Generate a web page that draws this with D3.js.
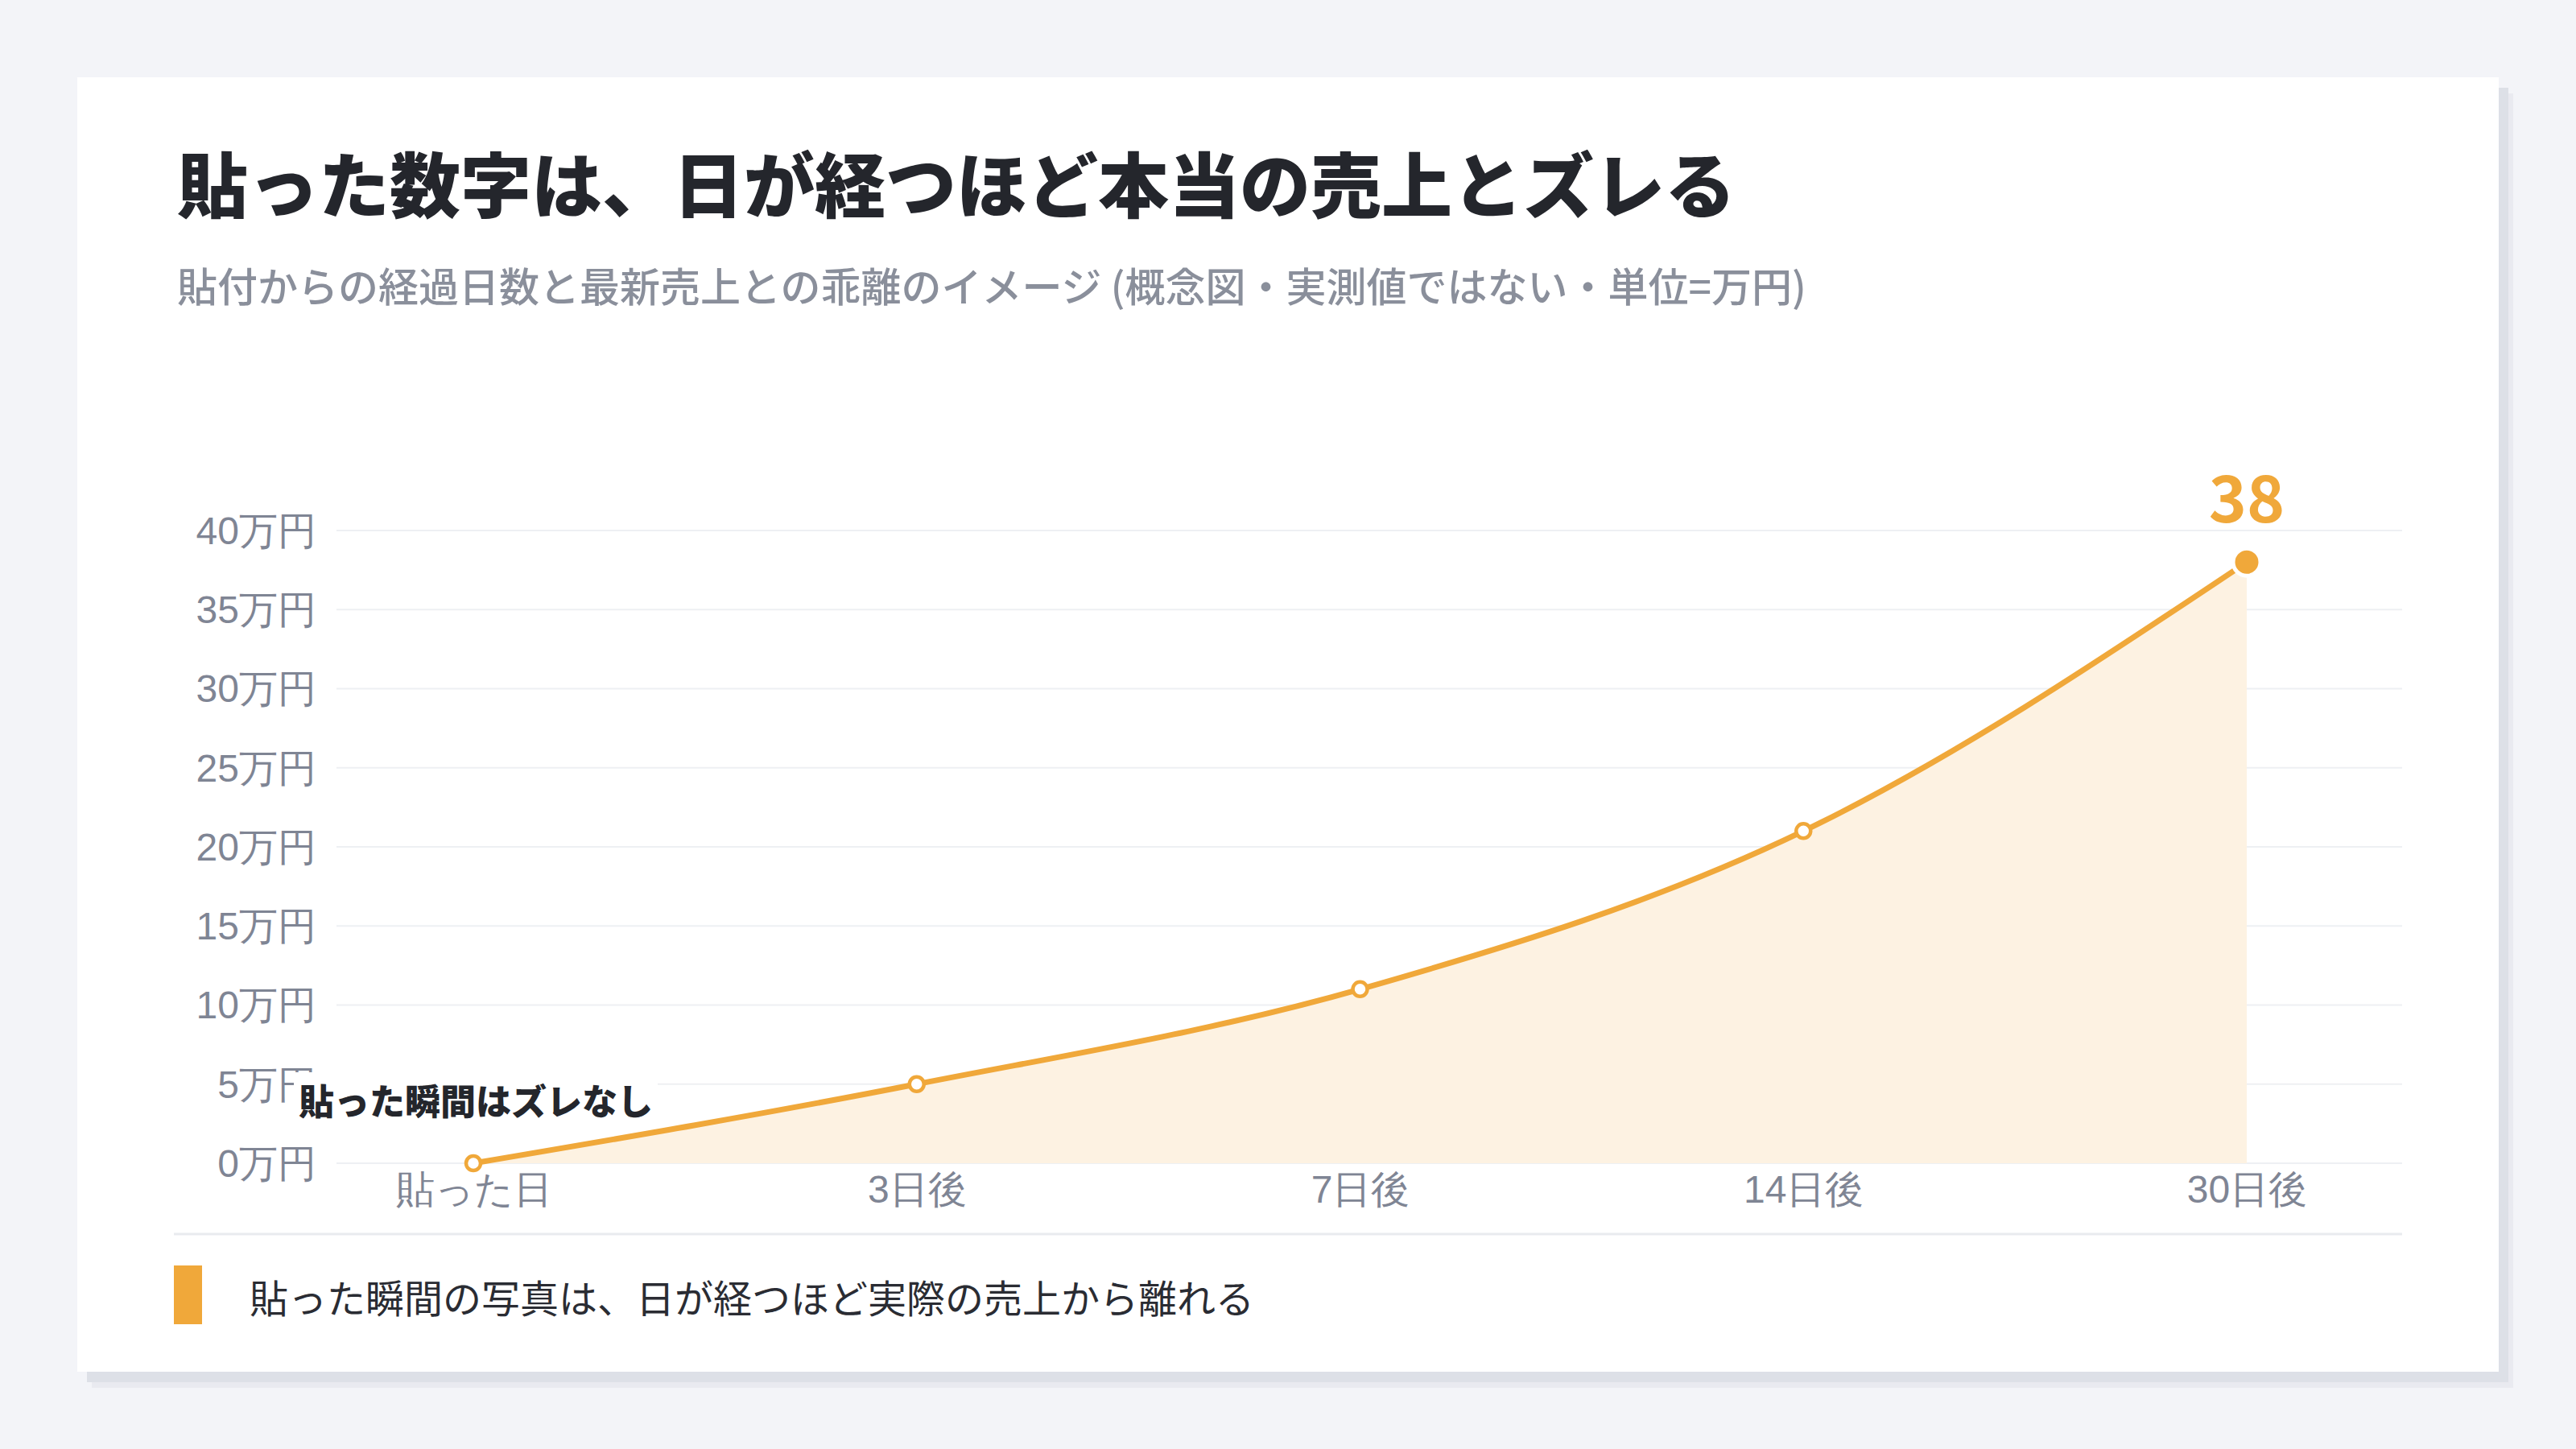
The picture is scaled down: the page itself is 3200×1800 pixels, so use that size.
<!DOCTYPE html>
<html>
<head>
<meta charset="utf-8">
<script src="https://cdn.jsdelivr.net/npm/d3@7"></script>
<style>
  html, body { margin: 0; padding: 0; background: #f3f4f8; }
  svg { display: block; font-family: 'Noto Sans CJK JP', 'Noto Sans', sans-serif; }
</style>
</head>
<body>
<div id="chart"></div>
<script>
// days since the number was pasted, and how far the real sales drifted (万円)
const days = ['貼った日', '3日後', '7日後', '14日後', '30日後']
const gap = [0, 5, 11, 21, 38]
const yTicks = [0, 5, 10, 15, 20, 25, 30, 35, 40]

const title = '貼った数字は、日が経つほど本当の売上とズレる'
const subtitle = '貼付からの経過日数と最新売上との乖離のイメージ (概念図・実測値ではない・単位=万円)'
const note = '貼った瞬間はズレなし'
const legendLabel = '貼った瞬間の写真は、日が経つほど実際の売上から離れる'

const W = 3200
const H = 1800
const orange = '#f0a83a'
const grey = '#7f8594'

const svg = d3.select('#chart').append('svg')
  .attr('width', W)
  .attr('height', H)

svg.append('rect').attr('width', W).attr('height', H).attr('fill', '#f3f4f8')

// card with a hard offset shadow
const card = { x: 96, y: 96, w: 3008, h: 1608 }
svg.append('rect')
  .attr('x', card.x + 18).attr('y', card.y + 20)
  .attr('width', card.w).attr('height', card.h)
  .attr('fill', '#e9eaf0')
svg.append('rect')
  .attr('x', card.x + 12).attr('y', card.y + 13)
  .attr('width', card.w).attr('height', card.h)
  .attr('fill', '#dde0e7')
svg.append('rect')
  .attr('x', card.x).attr('y', card.y)
  .attr('width', card.w).attr('height', card.h)
  .attr('fill', '#ffffff')

svg.append('text')
  .attr('x', 220).attr('y', 224)
  .attr('dominant-baseline', 'central')
  .attr('font-size', 88)
  .attr('font-weight', 900)
  .attr('fill', '#24262c')
  .text(title)

svg.append('text')
  .attr('x', 220).attr('y', 353)
  .attr('dominant-baseline', 'central')
  .attr('font-size', 50)
  .attr('font-weight', 500)
  .attr('fill', '#8a8f9b')
  .text(subtitle)

// scales
const gridLeft = 418
const gridRight = 2984

const xScale = d3.scalePoint()
  .domain(days)
  .range([588, 2791])

const yScale = d3.scaleLinear()
  .domain([0, 40])
  .range([1445, 659])

// gridlines
svg.append('g')
  .selectAll('line')
  .data(yTicks)
  .enter().append('line')
  .attr('x1', gridLeft)
  .attr('x2', gridRight)
  .attr('y1', d => yScale(d))
  .attr('y2', d => yScale(d))
  .attr('stroke', '#eef0f3')
  .attr('stroke-width', 2)

// y axis labels
const yAxis = svg.append('g')
  .attr('transform', 'translate(393,0)')
  .call(d3.axisLeft(yScale).tickValues(yTicks).tickSize(0).tickPadding(0).tickFormat(d => `${d}万円`))
yAxis.select('.domain').remove()
yAxis.selectAll('text')
  .attr('font-family', null)
  .attr('font-size', 48)
  .attr('fill', grey)
  .attr('dy', '0.34em')

// area + line
const area = d3.area()
  .x((d, i) => xScale(days[i]))
  .y0(yScale(0))
  .y1(d => yScale(d))
  .curve(d3.curveMonotoneX)

const line = d3.line()
  .x((d, i) => xScale(days[i]))
  .y(d => yScale(d))
  .curve(d3.curveMonotoneX)

svg.append('path')
  .datum(gap)
  .attr('d', area)
  .attr('fill', '#fdf2e2')

svg.append('path')
  .datum(gap)
  .attr('d', line)
  .attr('fill', 'none')
  .attr('stroke', orange)
  .attr('stroke-width', 7)

// x axis labels
const xAxis = svg.append('g')
  .attr('transform', `translate(0,${yScale(0)})`)
  .call(d3.axisBottom(xScale).tickSize(0).tickPadding(0))
xAxis.select('.domain').remove()
xAxis.selectAll('text')
  .attr('font-family', null)
  .attr('font-size', 48)
  .attr('fill', grey)
  .attr('y', 33)
  .attr('dy', '0.34em')

// points
const last = gap.length - 1
svg.selectAll('.dot')
  .data(gap.slice(0, last))
  .enter().append('circle')
  .attr('class', 'dot')
  .attr('cx', (d, i) => xScale(days[i]))
  .attr('cy', d => yScale(d))
  .attr('r', 9)
  .attr('fill', '#ffffff')
  .attr('stroke', orange)
  .attr('stroke-width', 4.5)

svg.append('circle')
  .attr('cx', xScale(days[last]))
  .attr('cy', yScale(gap[last]))
  .attr('r', 17)
  .attr('fill', orange)
  .attr('stroke', '#ffffff')
  .attr('stroke-width', 5)

svg.append('text')
  .attr('x', xScale(days[last]))
  .attr('y', yScale(gap[last]) - 84)
  .attr('text-anchor', 'middle')
  .attr('dominant-baseline', 'central')
  .attr('font-size', 80)
  .attr('font-weight', 700)
  .attr('fill', orange)
  .text(gap[last])

// note at the start point, on a white label
const noteG = svg.append('g')
const noteText = noteG.append('text')
  .attr('x', 371)
  .attr('y', 1366)
  .attr('dominant-baseline', 'central')
  .attr('font-size', 44)
  .attr('font-weight', 900)
  .attr('fill', '#24262c')
  .text(note)
const bb = noteText.node().getBBox()
noteG.insert('rect', 'text')
  .attr('x', bb.x - 6)
  .attr('y', bb.y - 2)
  .attr('width', bb.width + 12)
  .attr('height', bb.height + 4)
  .attr('fill', '#ffffff')

// separator + legend
svg.append('line')
  .attr('x1', 216).attr('x2', gridRight)
  .attr('y1', 1533).attr('y2', 1533)
  .attr('stroke', '#e9ebef')
  .attr('stroke-width', 3)

svg.append('rect')
  .attr('x', 216).attr('y', 1572)
  .attr('width', 35).attr('height', 73)
  .attr('fill', orange)

svg.append('text')
  .attr('x', 310).attr('y', 1610)
  .attr('dominant-baseline', 'central')
  .attr('font-size', 48)
  .attr('fill', '#2a2c33')
  .text(legendLabel)
</script>
</body>
</html>
